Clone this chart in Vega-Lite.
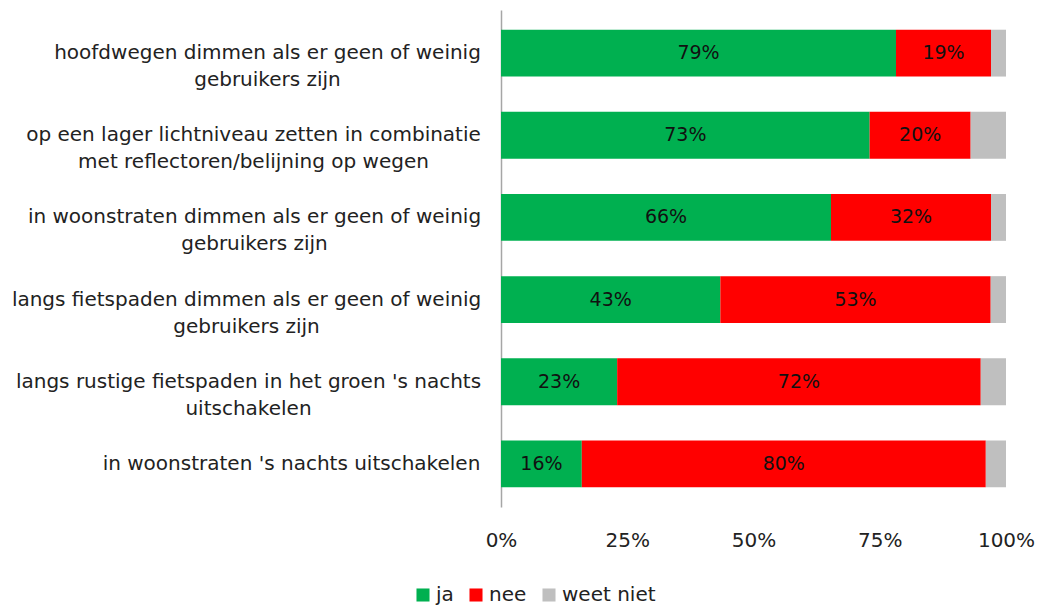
{
  "$schema": "https://vega.github.io/schema/vega-lite/v6.json",
  "autosize": "none",
  "width": 505,
  "height": 497,
  "padding": {"left": 501, "top": 10, "right": 33, "bottom": 98},
  "config": {
    "view": {"stroke": null},
    "font": "DejaVu Sans"
  },
  "data": {
    "values": [
      {"stelling": "hoofdwegen dimmen als er geen of weinig|gebruikers zijn", "antwoord": "ja", "pct": 79, "label": "79%"},
      {"stelling": "hoofdwegen dimmen als er geen of weinig|gebruikers zijn", "antwoord": "nee", "pct": 19, "label": "19%"},
      {"stelling": "hoofdwegen dimmen als er geen of weinig|gebruikers zijn", "antwoord": "weet niet", "pct": 3, "label": ""},
      {"stelling": "op een lager lichtniveau zetten in combinatie|met reflectoren/belijning op wegen", "antwoord": "ja", "pct": 73, "label": "73%"},
      {"stelling": "op een lager lichtniveau zetten in combinatie|met reflectoren/belijning op wegen", "antwoord": "nee", "pct": 20, "label": "20%"},
      {"stelling": "op een lager lichtniveau zetten in combinatie|met reflectoren/belijning op wegen", "antwoord": "weet niet", "pct": 7, "label": ""},
      {"stelling": "in woonstraten dimmen als er geen of weinig|gebruikers zijn", "antwoord": "ja", "pct": 66, "label": "66%"},
      {"stelling": "in woonstraten dimmen als er geen of weinig|gebruikers zijn", "antwoord": "nee", "pct": 32, "label": "32%"},
      {"stelling": "in woonstraten dimmen als er geen of weinig|gebruikers zijn", "antwoord": "weet niet", "pct": 3, "label": ""},
      {"stelling": "langs fietspaden dimmen als er geen of weinig|gebruikers zijn", "antwoord": "ja", "pct": 43, "label": "43%"},
      {"stelling": "langs fietspaden dimmen als er geen of weinig|gebruikers zijn", "antwoord": "nee", "pct": 53, "label": "53%"},
      {"stelling": "langs fietspaden dimmen als er geen of weinig|gebruikers zijn", "antwoord": "weet niet", "pct": 3, "label": ""},
      {"stelling": "langs rustige fietspaden in het groen 's nachts|uitschakelen", "antwoord": "ja", "pct": 23, "label": "23%"},
      {"stelling": "langs rustige fietspaden in het groen 's nachts|uitschakelen", "antwoord": "nee", "pct": 72, "label": "72%"},
      {"stelling": "langs rustige fietspaden in het groen 's nachts|uitschakelen", "antwoord": "weet niet", "pct": 5, "label": ""},
      {"stelling": "in woonstraten 's nachts uitschakelen", "antwoord": "ja", "pct": 16, "label": "16%"},
      {"stelling": "in woonstraten 's nachts uitschakelen", "antwoord": "nee", "pct": 80, "label": "80%"},
      {"stelling": "in woonstraten 's nachts uitschakelen", "antwoord": "weet niet", "pct": 4, "label": ""}
    ]
  },
  "encoding": {
    "y": {
      "field": "stelling",
      "type": "nominal",
      "sort": null,
      "title": null,
      "scale": {"paddingInner": 0.43, "paddingOuter": 0.24},
      "axis": {
        "labelExpr": "split(datum.value, '|')",
        "labelAlign": "center",
        "labelFontSize": 20,
        "labelLineHeight": 27,
        "labelColor": "#222222",
        "labelLimit": 520,
        "labelPadding": {
          "condition": [
            {"test": "indexof(datum.value, 'hoofdwegen') == 0", "value": 234},
            {"test": "indexof(datum.value, 'op een') == 0", "value": 248},
            {"test": "indexof(datum.value, 'in woonstraten dimmen') == 0", "value": 247},
            {"test": "indexof(datum.value, 'langs fietspaden') == 0", "value": 255},
            {"test": "indexof(datum.value, 'langs rustige') == 0", "value": 253}
          ],
          "value": 210
        },
        "ticks": false,
        "domainColor": "#a6a6a6",
        "domainWidth": 1.5
      }
    },
    "x": {
      "field": "pct",
      "type": "quantitative",
      "stack": "normalize",
      "title": null,
      "scale": {"domain": [0, 1]},
      "axis": {
        "format": ".0%",
        "values": [0, 0.25, 0.5, 0.75, 1],
        "domain": false,
        "ticks": false,
        "grid": false,
        "labelFontSize": 20,
        "labelColor": "#222222",
        "labelPadding": 23,
        "labelFlush": false
      }
    },
    "order": {"field": "antwoord", "type": "ordinal", "sort": "ascending"}
  },
  "layer": [
    {
      "mark": {"type": "bar"},
      "encoding": {
        "color": {
          "field": "antwoord",
          "type": "nominal",
          "scale": {"domain": ["ja", "nee", "weet niet"], "range": ["#00B050", "#FF0000", "#BFBFBF"]},
          "legend": {
            "title": null,
            "orient": "none",
            "direction": "horizontal",
            "legendX": -88,
            "legendY": 575,
            "symbolType": "square",
            "symbolSize": 170,
            "symbolStrokeWidth": 0,
            "labelFontSize": 20,
            "labelColor": "#222222",
            "labelOffset": 3,
            "columnPadding": 12
          }
        }
      }
    },
    {
      "mark": {"type": "text", "fontSize": 19, "color": "#111111"},
      "encoding": {
        "x": {
          "field": "pct",
          "type": "quantitative",
          "stack": "normalize",
          "bandPosition": 0.5
        },
        "text": {"field": "label"},
        "detail": {"field": "antwoord"}
      }
    }
  ]
}
